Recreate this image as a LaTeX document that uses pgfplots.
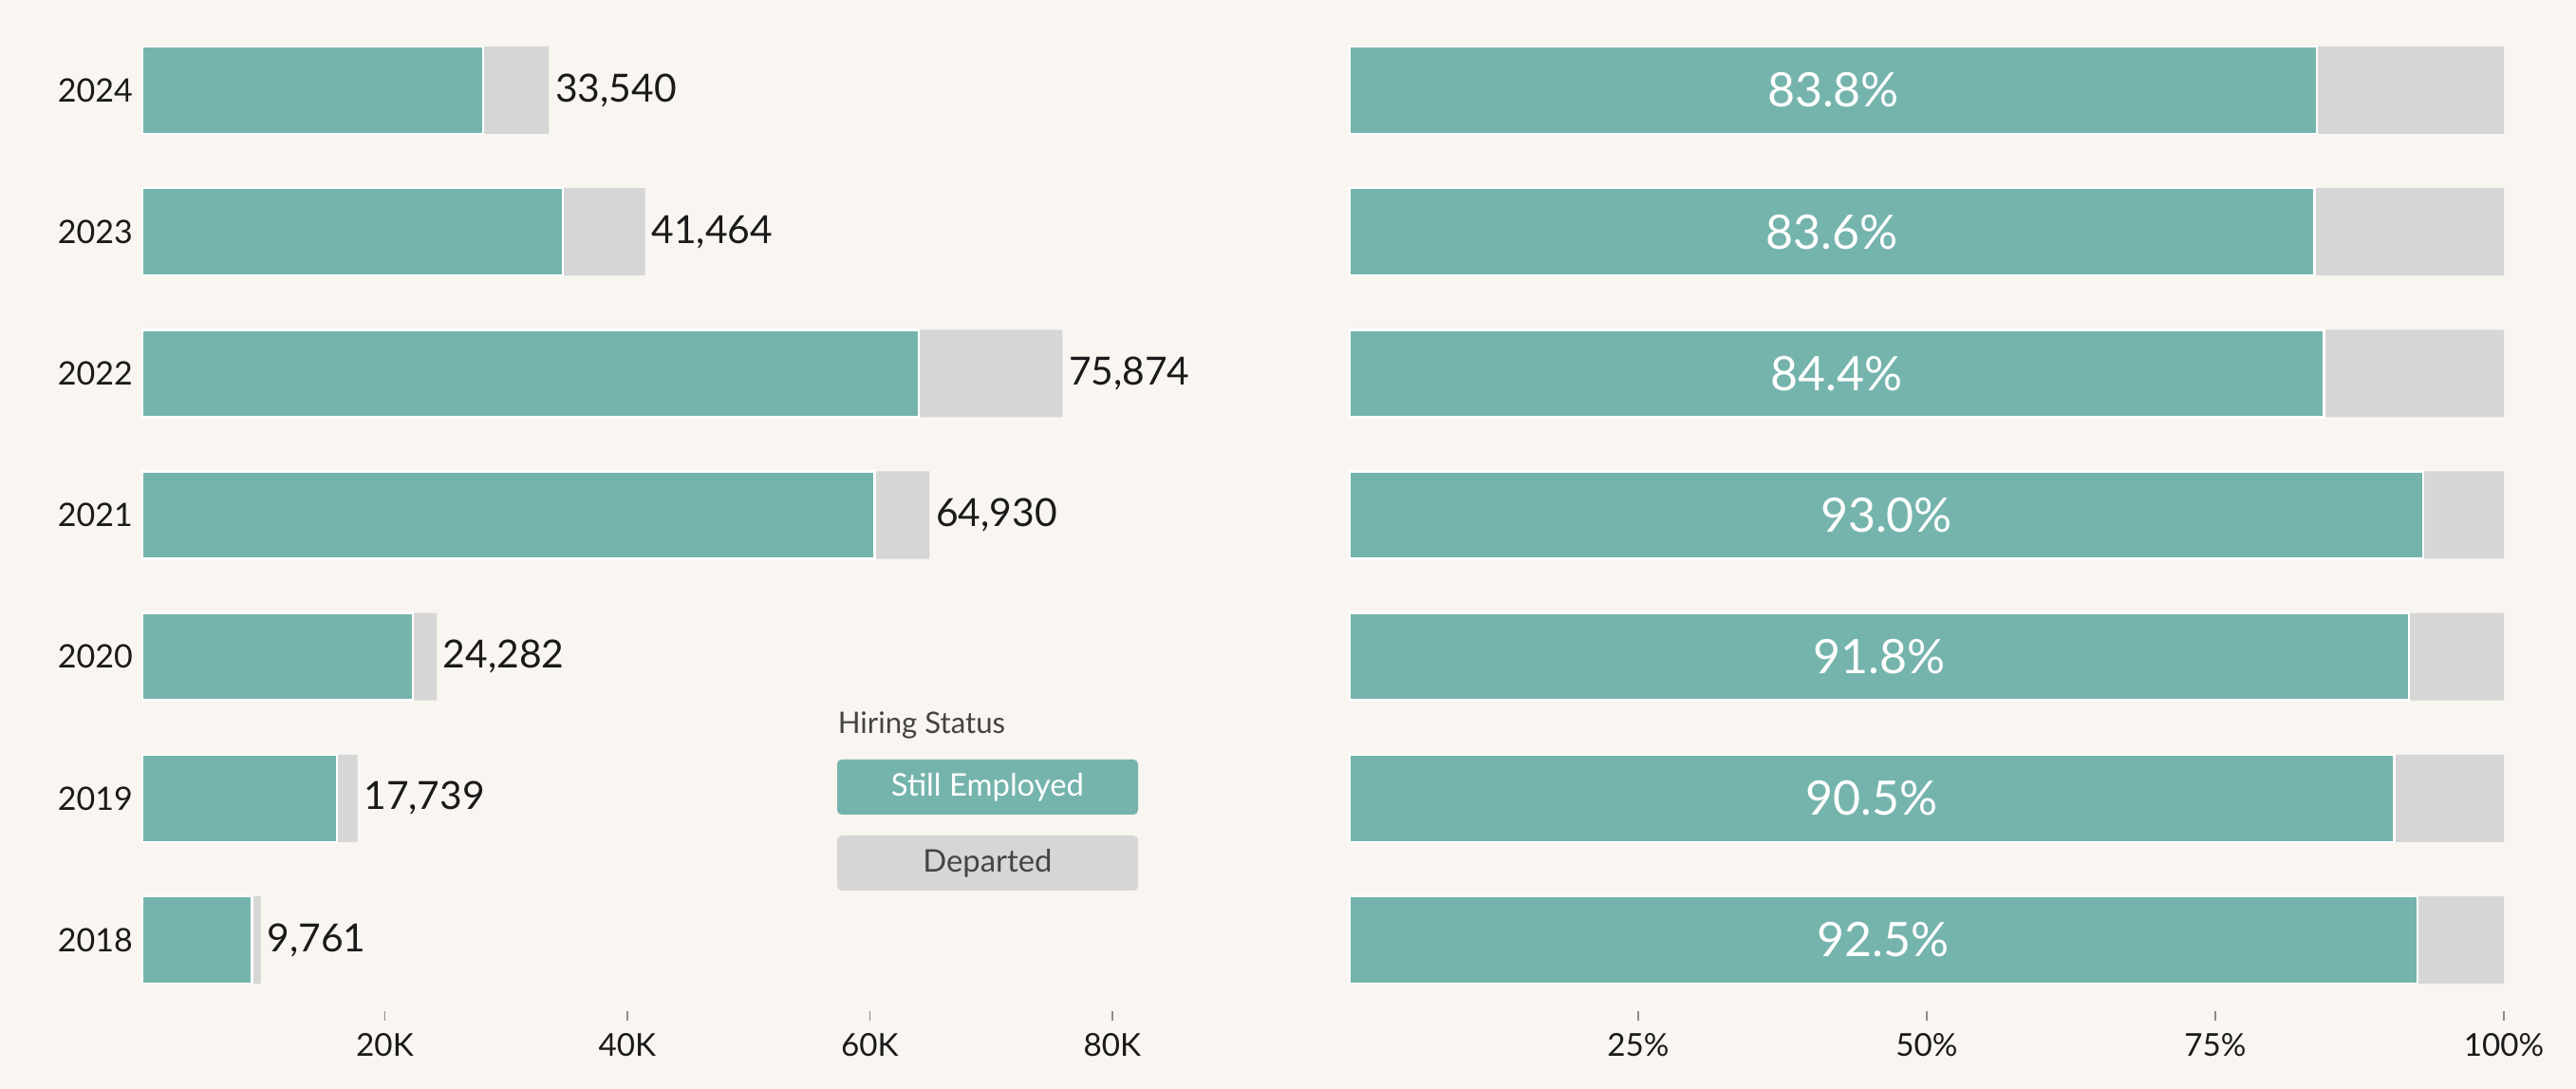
\documentclass[border=0pt]{standalone}
\usepackage{pgfplots}
\pgfplotsset{compat=1.18}
\usepackage{pgfplotstable}
\usepackage{fontspec}
\setmainfont{Lato}
\definecolor{bgc}{HTML}{F9F5F1}
\definecolor{tealc}{HTML}{75B4AD}
\definecolor{greyc}{HTML}{D6D6D6}
\definecolor{txt}{HTML}{1A1A1A}
\definecolor{legtxt}{HTML}{444444}

\pgfplotstableread{
idx year total emp pct
0 2018 9761 9029 92.5
1 2019 17739 16054 90.5
2 2020 24282 22291 91.8
3 2021 64930 60385 93.0
4 2022 75874 64038 84.4
5 2023 41464 34664 83.6
6 2024 33540 28107 83.8
}\data

\pgfplotsset{
  common/.style={
    scale only axis,
    clip=false,
    scaled ticks=false,
    ymin=-0.5, ymax=6.5,
    ytick={0,...,6},
    ytick style={draw=none},
    axis line style={draw=none},
    tick align=outside,
    xtick pos=bottom,
    major tick length=2.5pt,
    xtick style={draw=black!45, line width=0.4pt},
    x tick label style={font=\fontsize{8.3}{9}\selectfont, text=txt},
    y tick label style={font=\fontsize{8.5}{9}\selectfont, text=txt, xshift=3.5pt},
    /pgf/number format/assume math mode=true,
  }
}

\begin{document}
\begin{tikzpicture}
\fill[bgc] (0,0) rectangle (678.5pt,286.75pt);

% Left panel
\begin{axis}[common,
  at={(37.5pt,20.6pt)}, anchor=south west,
  width=255.5pt, height=261.05pt,
  xmin=0, xmax=80000,
  xtick={20000,40000,60000,80000},
  xticklabels={20K,40K,60K,80K},
  yticklabels={2018,2019,2020,2021,2022,2023,2024},
]
\addplot[xbar, bar shift=0pt, bar width=23pt, fill=greyc, draw=none,
  point meta=explicit,
  nodes near coords={\pgfmathprintnumber[fixed,precision=0,1000 sep={,}]{\pgfplotspointmeta}},
  every node near coord/.append style={anchor=west, inner sep=1.5pt, text=txt, font=\fontsize{10.2}{12}\selectfont}]
  table[x=total, y=idx, meta=total] {\data};
\addplot[xbar, bar shift=0pt, bar width=23pt, fill=tealc, draw=white, line width=0.6pt]
  table[x=emp, y=idx] {\data};
\end{axis}

% Right panel
\begin{axis}[common,
  at={(355.5pt,20.6pt)}, anchor=south west,
  width=304pt, height=261.05pt,
  xmin=0, xmax=100,
  xtick={25,50,75,100},
  xticklabels={25\%,50\%,75\%,100\%},
  yticklabels={},
]
\addplot[xbar, bar shift=0pt, bar width=23pt, fill=greyc, draw=none]
  table[x expr=100, y=idx] {\data};
\addplot[xbar, bar shift=0pt, bar width=23pt, fill=tealc, draw=white, line width=0.6pt]
  table[x=pct, y=idx] {\data};
\addplot[draw=none, mark=none, point meta=explicit,
  nodes near coords={\pgfmathprintnumber[fixed,fixed zerofill,precision=1]{\pgfplotspointmeta}\%},
  every node near coord/.append style={anchor=center, text=white, font=\fontsize{12.5}{14}\selectfont}]
  table[x expr=\thisrow{pct}/2, y=idx, meta=pct] {\data};
\end{axis}

% Legend
\node[anchor=base west, inner sep=0pt, text=legtxt, font=\fontsize{7.8}{9}\selectfont] at (220.5pt,93.5pt) {Hiring Status};
\fill[tealc, rounded corners=1.2pt] (220.5pt,72.25pt) rectangle (299.75pt,86.75pt);
\node[text=white, font=\fontsize{8.2}{9}\selectfont] at (260.1pt,79.5pt) {Still Employed};
\fill[greyc, rounded corners=1.2pt] (220.5pt,52.25pt) rectangle (299.75pt,66.75pt);
\node[text=legtxt, font=\fontsize{8.2}{9}\selectfont] at (260.1pt,59.5pt) {Departed};
\end{tikzpicture}
\end{document}
